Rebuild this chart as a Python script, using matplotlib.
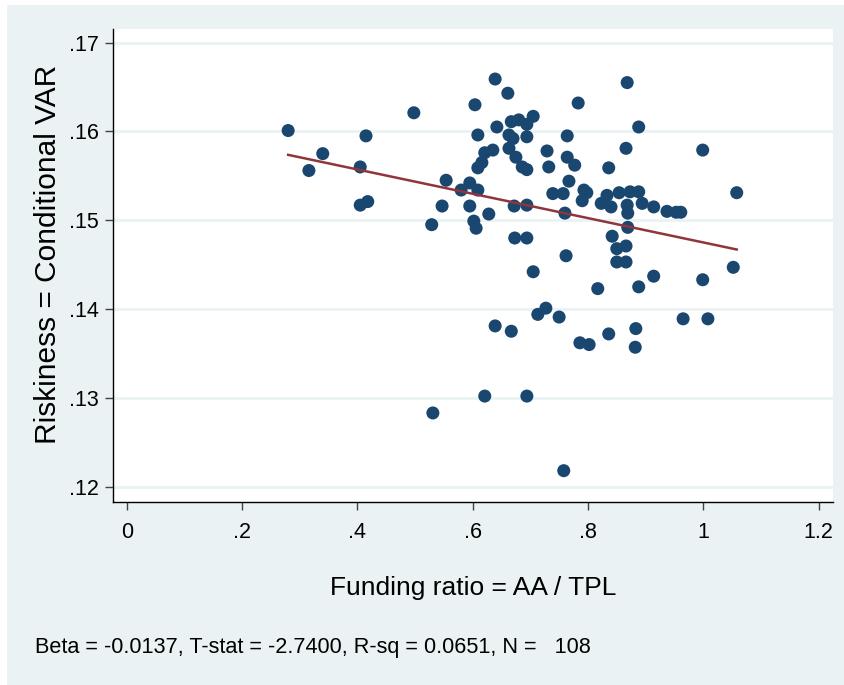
import numpy as np
import matplotlib
matplotlib.use("Agg")
import matplotlib.pyplot as plt
from matplotlib.patches import Rectangle

# Funding ratio (x) and conditional VaR (y)
funding = [0.280, 0.316, 0.340, 0.405, 0.415, 0.405, 0.418, 0.498, 0.529, 0.531,
           0.554, 0.547, 0.580, 0.595, 0.604, 0.609, 0.595, 0.602, 0.606, 0.609,
           0.616, 0.609, 0.621, 0.628, 0.635, 0.639, 0.642, 0.621, 0.639, 0.661,
           0.667, 0.663, 0.663, 0.670, 0.675, 0.680, 0.686, 0.694, 0.672, 0.673,
           0.694, 0.694, 0.705, 0.694, 0.694, 0.705, 0.667, 0.694, 0.713, 0.727,
           0.729, 0.732, 0.739, 0.757, 0.750, 0.764, 0.764, 0.767, 0.760, 0.762,
           0.758, 0.777, 0.783, 0.790, 0.793, 0.798, 0.786, 0.802, 0.817, 0.823,
           0.836, 0.840, 0.833, 0.842, 0.836, 0.850, 0.850, 0.854, 0.866, 0.866,
           0.866, 0.868, 0.873, 0.868, 0.869, 0.869, 0.888, 0.888, 0.894, 0.883,
           0.882, 0.888, 0.914, 0.914, 0.937, 0.953, 0.961, 0.965, 0.999, 0.999,
           1.008, 1.052, 1.058]
riskiness = [0.1601, 0.1556, 0.1575, 0.1560, 0.1595, 0.1517, 0.1521, 0.1621, 0.1495, 0.1283,
             0.1545, 0.1516, 0.1534, 0.1542, 0.1630, 0.1596, 0.1516, 0.1499, 0.1491, 0.1559,
             0.1565, 0.1534, 0.1576, 0.1507, 0.1579, 0.1659, 0.1605, 0.1302, 0.1381, 0.1643,
             0.1611, 0.1596, 0.1581, 0.1592, 0.1571, 0.1613, 0.1560, 0.1557, 0.1516, 0.1480,
             0.1594, 0.1608, 0.1617, 0.1517, 0.1480, 0.1442, 0.1375, 0.1302, 0.1394, 0.1401,
             0.1578, 0.1560, 0.1530, 0.1530, 0.1391, 0.1595, 0.1571, 0.1544, 0.1508, 0.1460,
             0.1218, 0.1562, 0.1632, 0.1522, 0.1534, 0.1531, 0.1362, 0.1360, 0.1423, 0.1519,
             0.1559, 0.1515, 0.1528, 0.1482, 0.1372, 0.1468, 0.1453, 0.1531, 0.1453, 0.1471,
             0.1581, 0.1655, 0.1532, 0.1517, 0.1508, 0.1492, 0.1605, 0.1532, 0.1519, 0.1378,
             0.1357, 0.1425, 0.1515, 0.1437, 0.1510, 0.1509, 0.1509, 0.1389, 0.1579, 0.1433,
             0.1389, 0.1447, 0.1531]

# fitted line
beta = -0.0137
intercept = 0.1612

xticks = [0, 0.2, 0.4, 0.6, 0.8, 1, 1.2]
xticklabels = ["0", ".2", ".4", ".6", ".8", "1", "1.2"]
yticks = [0.12, 0.13, 0.14, 0.15, 0.16, 0.17]
yticklabels = [".12", ".13", ".14", ".15", ".16", ".17"]

note = "Beta = -0.0137, T-stat = -2.7400, R-sq = 0.0651, N =   108"

plt.rcParams['font.family'] = ['Liberation Sans', 'DejaVu Sans']

bg = '#eaf2f3'
fig = plt.figure(figsize=(8.44, 6.85), dpi=100, facecolor='white')
fig.patches.append(Rectangle((7 / 844, 0), 1, 1 - 5 / 685, transform=fig.transFigure,
                             facecolor=bg, edgecolor='none', zorder=-10))

ax = fig.add_axes([112.7 / 844, 1 - 502.3 / 685, (833.3 - 112.7) / 844, (502.3 - 29.3) / 685])
ax.set_facecolor('white')

ax.set_xlim(-0.0243, 1.2255)
ax.set_ylim(0.11824, 0.1715)

for yt in yticks:
    ax.axhline(yt, color=bg, lw=2.0, zorder=0)

ax.scatter(funding, riskiness, s=88, color='#1a476f', edgecolors='none', zorder=3)

xs = np.array([min(funding), max(funding)])
ax.plot(xs, intercept + beta * xs, color='#90353b', lw=1.8, zorder=4)

ax.set_xticks(xticks)
ax.set_xticklabels(xticklabels)
ax.set_yticks(yticks)
ax.set_yticklabels(yticklabels)
ax.tick_params(axis='both', direction='out', length=6, width=1, color='#444444',
               labelsize=15.5, labelcolor='black', pad=4)
ax.tick_params(axis='x', pad=8)

for side in ['top', 'right']:
    ax.spines[side].set_visible(False)
for side in ['left', 'bottom']:
    ax.spines[side].set_color('black')
    ax.spines[side].set_linewidth(1.0)

ax.set_xlabel("Funding ratio = AA / TPL", fontsize=19, labelpad=24)
ax.set_ylabel("Riskiness = Conditional VAR", fontsize=21.5)
ax.yaxis.set_label_coords(-0.071, 0.525)

fig.text(35 / 844, 1 - 648 / 685, note, fontsize=15.6, ha='left', va='center')

fig.savefig("out.png", dpi=100, facecolor=fig.get_facecolor())
